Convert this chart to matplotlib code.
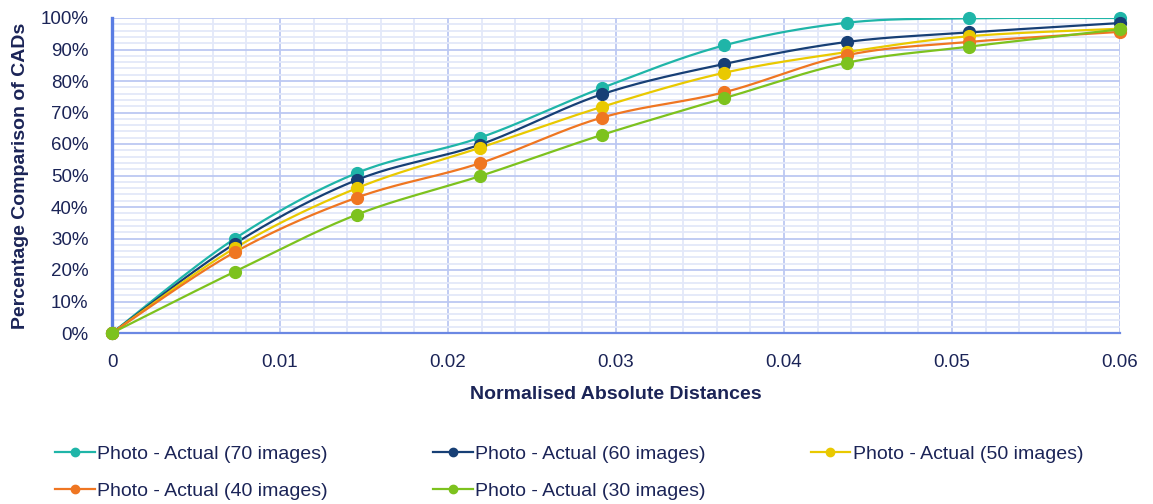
import numpy as np
import matplotlib
matplotlib.use("Agg")
import matplotlib.pyplot as plt
from matplotlib.ticker import MultipleLocator, FuncFormatter

plt.rcParams['font.family'] = ['Liberation Sans', 'DejaVu Sans']

# Normalised absolute distances (x) and cumulative percentages per image count
distances = [0.0, 0.00732, 0.01458, 0.0219, 0.02917, 0.03643, 0.04375, 0.051, 0.06]
pct_70 = [0.0, 30.0, 50.8, 62.0, 77.8, 91.3, 98.5, 99.9, 100.0]
pct_60 = [0.0, 28.4, 48.6, 59.8, 75.8, 85.4, 92.4, 95.4, 98.4]
pct_50 = [0.0, 27.0, 46.0, 58.8, 71.8, 82.6, 89.2, 94.2, 96.6]
pct_40 = [0.0, 25.7, 43.0, 53.9, 68.4, 76.4, 88.2, 92.4, 95.6]
pct_30 = [0.0, 19.5, 37.6, 49.8, 62.9, 74.5, 85.8, 90.9, 96.4]

series = [
    ("Photo - Actual (70 images)", pct_70, "#1fb5a8"),
    ("Photo - Actual (60 images)", pct_60, "#173f75"),
    ("Photo - Actual (50 images)", pct_50, "#e9c900"),
    ("Photo - Actual (40 images)", pct_40, "#ef7622"),
    ("Photo - Actual (30 images)", pct_30, "#7dc21e"),
]

x_ticks = [0, 0.01, 0.02, 0.03, 0.04, 0.05, 0.06]
x_tick_labels = ["0", "0.01", "0.02", "0.03", "0.04", "0.05", "0.06"]

text_color = "#1b2457"


def smooth(xs, ys, n=40):
    """Spreadsheet-style smoothed line: cubic Bezier segments through points."""
    xs = np.asarray(xs, float)
    ys = np.asarray(ys, float)
    px = np.concatenate([[xs[0]], xs, [xs[-1]]])
    py = np.concatenate([[ys[0]], ys, [ys[-1]]])
    out_x, out_y = [], []
    t = np.linspace(0, 1, n)
    for i in range(1, len(px) - 2):
        p0 = np.array([px[i], py[i]])
        p3 = np.array([px[i + 1], py[i + 1]])
        c1 = p0 + (np.array([px[i + 1], py[i + 1]]) - np.array([px[i - 1], py[i - 1]])) / 6
        c2 = p3 - (np.array([px[i + 2], py[i + 2]]) - np.array([px[i], py[i]])) / 6
        b = ((1 - t) ** 3)[:, None] * p0 + (3 * (1 - t) ** 2 * t)[:, None] * c1 \
            + (3 * (1 - t) * t ** 2)[:, None] * c2 + (t ** 3)[:, None] * p3
        out_x.extend(b[:, 0])
        out_y.extend(b[:, 1])
    return np.array(out_x), np.array(out_y)


fig = plt.figure(figsize=(11.53, 5.04), dpi=100)
ax = fig.add_axes([112 / 1153, 1 - 333 / 504, 1008 / 1153, 315 / 504])

handles = {}
for label, vals, color in series:
    sx, sy = smooth(distances, vals)
    ax.plot(sx, sy, color=color, lw=1.6, zorder=3, solid_capstyle='round')
    ax.plot(distances, vals, 'o', color=color, ms=8.5, zorder=4, clip_on=False)
    h, = ax.plot([], [], '-o', color=color, lw=1.6, ms=6, label=label)
    handles[label] = h

ax.set_xlim(0, 0.06)
ax.set_ylim(0, 100)
ax.xaxis.set_minor_locator(MultipleLocator(0.002))
ax.yaxis.set_major_locator(MultipleLocator(10))
ax.yaxis.set_minor_locator(MultipleLocator(2))
ax.set_xticks(x_ticks)
ax.set_xticklabels(x_tick_labels)
ax.yaxis.set_major_formatter(FuncFormatter(lambda v, p: f"{int(round(v))}%"))

ax.grid(which='major', color='#bcc8f2', lw=1.3, zorder=0)
ax.grid(which='minor', color='#e3e8f9', lw=1.3, zorder=0)
ax.set_axisbelow(True)

for s in ['top', 'right']:
    ax.spines[s].set_visible(False)
ax.spines['left'].set_color('#5a7de3')
ax.spines['left'].set_linewidth(2.4)
ax.spines['bottom'].set_color('#6b88e3')
ax.spines['bottom'].set_linewidth(1.6)

ax.tick_params(which='both', length=0)
ax.tick_params(axis='y', pad=17, labelsize=13.5, labelcolor=text_color)
ax.tick_params(axis='x', pad=15, labelsize=13.5, labelcolor=text_color)

ax.set_ylabel("Percentage Comparison of CADs", fontsize=14, fontweight='bold',
              color=text_color)
ax.yaxis.set_label_coords(-83 / 1008, 0.5)
ax.set_xlabel("Normalised Absolute Distances", fontsize=14, fontweight='bold',
              color=text_color)
ax.xaxis.set_label_coords(0.5, -53 / 315)

order = ["Photo - Actual (70 images)", "Photo - Actual (40 images)",
         "Photo - Actual (60 images)", "Photo - Actual (30 images)",
         "Photo - Actual (50 images)"]
leg = fig.legend([handles[k] for k in order], order, loc='upper left',
                 bbox_to_anchor=(55 / 1153, 1 - 445 / 504), ncol=3, frameon=False,
                 fontsize=14, handlelength=2.05, handletextpad=0.12,
                 columnspacing=5.4, labelspacing=1.0, borderaxespad=0, borderpad=0)
for t in leg.get_texts():
    t.set_color(text_color)

fig.savefig("out.png", dpi=100)
